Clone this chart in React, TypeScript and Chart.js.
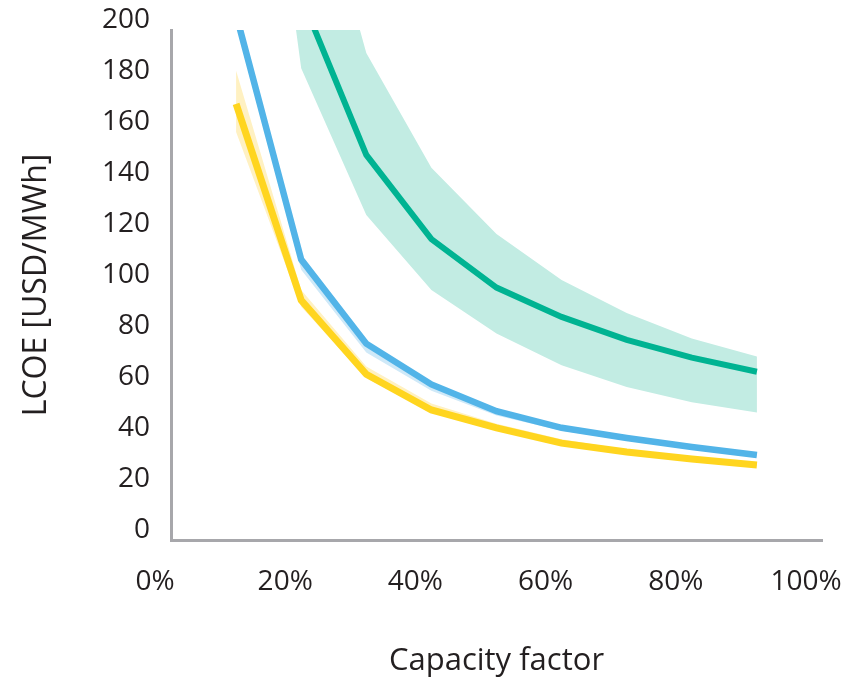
import React, { useEffect, useRef } from "react";
import { Chart, registerables } from "chart.js";

Chart.register(...registerables);

const capacityFactor = [10, 20, 30, 40, 50, 60, 70, 80, 90];

const greenMid = [430, 213, 151, 118, 99, 87.5, 78.5, 71.5, 66];
const greenLow = [374, 185, 127.5, 98, 81, 68.5, 60, 54, 50];
const greenHigh = [560, 283, 191, 146, 120, 102, 89, 79, 72];

const blueMid = [206, 110, 77, 61, 50.5, 44, 40, 36.5, 33.3];
const blueLow = [202, 106, 73.5, 58.5, 48.8, 42.8, 39, 35.7, 32.7];
const blueHigh = [209, 111.5, 78, 62, 51.2, 44.6, 40.5, 37, 33.8];

const yellowMid = [171, 94, 65, 51, 44, 38, 34.5, 31.8, 29.4];
const yellowLow = [160, 91.5, 63.5, 50, 43.2, 37.4, 34, 31.3, 29];
const yellowHigh = [184, 98, 68, 53.5, 45.6, 39.5, 35.5, 32.5, 30];

const xTicks = [0, 20, 40, 60, 80, 100];
const yTicks = [0, 20, 40, 60, 80, 100, 120, 140, 160, 180, 200];

const toPts = (vals: number[]) => capacityFactor.map((x, i) => ({ x, y: vals[i] }));

const FONT = "'Open Sans', 'Noto Sans', sans-serif";
const TEXT = "#231F20";
const AXIS = "#A7A7AB";

export default function App() {
  const ref = useRef<HTMLCanvasElement | null>(null);

  useEffect(() => {
    if (!ref.current) return;
    const band = (low: number[], high: number[], color: string) => [
      {
        data: toPts(low),
        borderWidth: 0,
        pointRadius: 0,
        fill: false,
        backgroundColor: color,
        borderColor: "rgba(0,0,0,0)",
        clip: 0,
        order: 2,
      },
      {
        data: toPts(high),
        borderWidth: 0,
        pointRadius: 0,
        fill: "-1",
        backgroundColor: color,
        borderColor: "rgba(0,0,0,0)",
        clip: 0,
        order: 2,
      },
    ];
    const line = (vals: number[], color: string, w: number, order: number) => ({
      data: toPts(vals),
      borderColor: color,
      borderWidth: w,
      pointRadius: 0,
      fill: false,
      borderJoinStyle: "miter" as const,
      clip: 0,
      order,
    });

    const chart = new Chart(ref.current, {
      type: "line",
      data: {
        datasets: [
          ...band(greenLow, greenHigh, "#C2ECE3"),
          ...band(blueLow, blueHigh, "#CFE9F8"),
          ...band(yellowLow, yellowHigh, "#FFF1C2"),
          line(greenMid, "#00B392", 6, 1),
          line(blueMid, "#52B4E8", 6.5, 1),
          line(yellowMid, "#FFD51F", 7, 0),
        ] as any,
      },
      options: {
        animation: false,
        responsive: false,
        devicePixelRatio: 1,
        layout: { padding: { left: 0, right: 34, top: 30, bottom: 0 } },
        plugins: { legend: { display: false }, tooltip: { enabled: false } },
        scales: {
          x: {
            type: "linear",
            min: 0,
            max: 100,
            afterBuildTicks: (s: any) => {
              s.ticks = xTicks.map((v) => ({ value: v }));
            },
            afterFit: (s: any) => {
              s.height = 137;
              s.paddingLeft = 0;
              s.paddingRight = 0;
            },
            grid: { display: true, color: "rgba(0,0,0,0)", drawTicks: false },
            border: { display: true, color: AXIS, width: 3 },
            ticks: {
              padding: 25,
              color: TEXT,
              font: { family: FONT, size: 28 },
              maxRotation: 0,
              autoSkip: false,
              labelOffset: -16,
              callback: (v: any) => `${v}%`,
            },
            title: {
              display: true,
              text: "Capacity factor",
              color: TEXT,
              font: { family: FONT, size: 31 },
              padding: { top: 0, bottom: -3 },
            },
          },
          y: {
            type: "linear",
            min: 0,
            max: 200,
            afterBuildTicks: (s: any) => {
              s.ticks = yTicks.map((v) => ({ value: v }));
            },
            afterFit: (s: any) => {
              s.width = 171;
              s.paddingTop = 0;
              s.paddingBottom = 0;
            },
            grid: { display: true, color: "rgba(0,0,0,0)", drawTicks: false },
            border: { display: true, color: AXIS, width: 3 },
            ticks: {
              padding: 21,
              color: TEXT,
              font: { family: FONT, size: 28 },
              labelOffset: -10,
              autoSkip: false,
            },
            title: {
              display: true,
              text: "LCOE [USD/MWh]",
              color: TEXT,
              font: { family: FONT, size: 32 },
              padding: { top: 18, bottom: 0 },
            },
          },
        },
      },
    });
    return () => chart.destroy();
  }, []);

  return (
    <div style={{ position: "absolute", left: 0, top: 0, width: 856, height: 677, background: "#fff" }}>
      <canvas ref={ref} width={856} height={677} style={{ width: 856, height: 677, display: "block" }} />
    </div>
  );
}
